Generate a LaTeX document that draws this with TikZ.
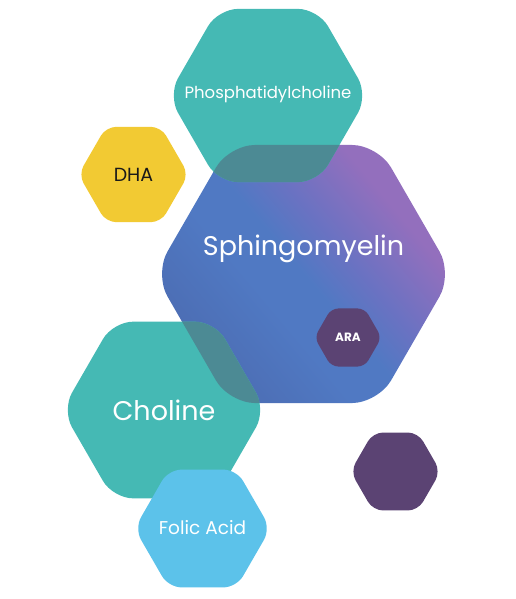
\documentclass[tikz,border=0pt]{standalone}
\usepackage{fontspec}
\setmainfont{Poppins}
\usepackage{tikz}
\usetikzlibrary{shapes.geometric}

\definecolor{hexteal}{HTML}{45B9B4}
\definecolor{hexyellow}{HTML}{F2CA33}
\definecolor{hexsky}{HTML}{5CC2EA}
\definecolor{hexplum}{HTML}{5B4373}
\definecolor{hexmix}{HTML}{4C8A94}
\definecolor{sphdark}{HTML}{4C6CB2}
\definecolor{sphblue}{HTML}{5079C3}
\definecolor{sphmid}{HTML}{6A72C2}
\definecolor{sphpurple}{HTML}{936FBD}

\pgfdeclarehorizontalshading{sphshade}{100bp}{
  color(0bp)=(sphdark); color(25bp)=(sphdark); color(42bp)=(sphblue);
  color(50bp)=(sphblue); color(58bp)=(sphmid); color(70bp)=(sphpurple); color(100bp)=(sphpurple)}

\tikzset{
  hexbox/.style={
    regular polygon, regular polygon sides=6, inner sep=0pt, outer sep=0pt
  },
  bighex/.style={hexbox, rounded corners=20pt},
  smallhex/.style={hexbox, rounded corners=10pt},
  hexlabel/.style={text=white, inner sep=0pt},
}

\begin{document}
\begin{tikzpicture}[x=1pt, y=-1pt]
  \useasboundingbox (0,0) rectangle (515,599);

  % --- Main hexagon ---
  \node[hexbox, rounded corners=26pt, minimum size=298pt,
    shade, shading=sphshade, shading angle=40,
    label={[hexlabel, yshift=25pt, font=\fontsize{27}{30}\selectfont]center:Sphingomyelin}]
    (sph) at (303.5,274) {};

  % --- Surrounding hexagons ---
  \node[bighex, minimum size=200pt, fill=hexteal,
    label={[hexlabel, yshift=1pt, font=\fontsize{16.5}{20}\selectfont]center:Phosphatidylcholine}]
    (phos) at (268,95.5) {};
  \node[smallhex, minimum size=110pt, fill=hexyellow,
    label={[hexlabel, text=black!90, font=\fontsize{19}{22}\selectfont]center:DHA}]
    (dha) at (133.5,174.5) {};
  \node[bighex, minimum size=204pt, fill=hexteal,
    label={[hexlabel, font=\fontsize{27}{30}\selectfont]center:Choline}]
    (chol) at (164,410) {};

  % --- Overlaps with the main hexagon ---
  \begin{scope}
    \clip[rounded corners=20pt] (phos.corner 1) foreach \i in {2,...,6} {-- (phos.corner \i)} -- cycle;
    \fill[hexmix, rounded corners=26pt] (sph.corner 1) foreach \i in {2,...,6} {-- (sph.corner \i)} -- cycle;
  \end{scope}
  \begin{scope}
    \clip[rounded corners=20pt] (chol.corner 1) foreach \i in {2,...,6} {-- (chol.corner \i)} -- cycle;
    \fill[hexmix, rounded corners=26pt] (sph.corner 1) foreach \i in {2,...,6} {-- (sph.corner \i)} -- cycle;
  \end{scope}

  % --- Small hexagons ---
  \node[smallhex, rounded corners=7pt, minimum size=67pt, fill=hexplum,
    label={[hexlabel, font=\fontsize{12}{14}\selectfont\bfseries]center:ARA}]
    (ara) at (348,337.5) {};
  \node[smallhex, rounded corners=13pt, minimum size=136pt, fill=hexsky,
    label={[hexlabel, yshift=1pt, font=\fontsize{18.5}{21}\selectfont]center:Folic Acid}]
    (folic) at (202.5,528.5) {};
  \node[smallhex, minimum size=90pt, fill=hexplum] (plum) at (395.5,471.5) {};

\end{tikzpicture}
\end{document}
